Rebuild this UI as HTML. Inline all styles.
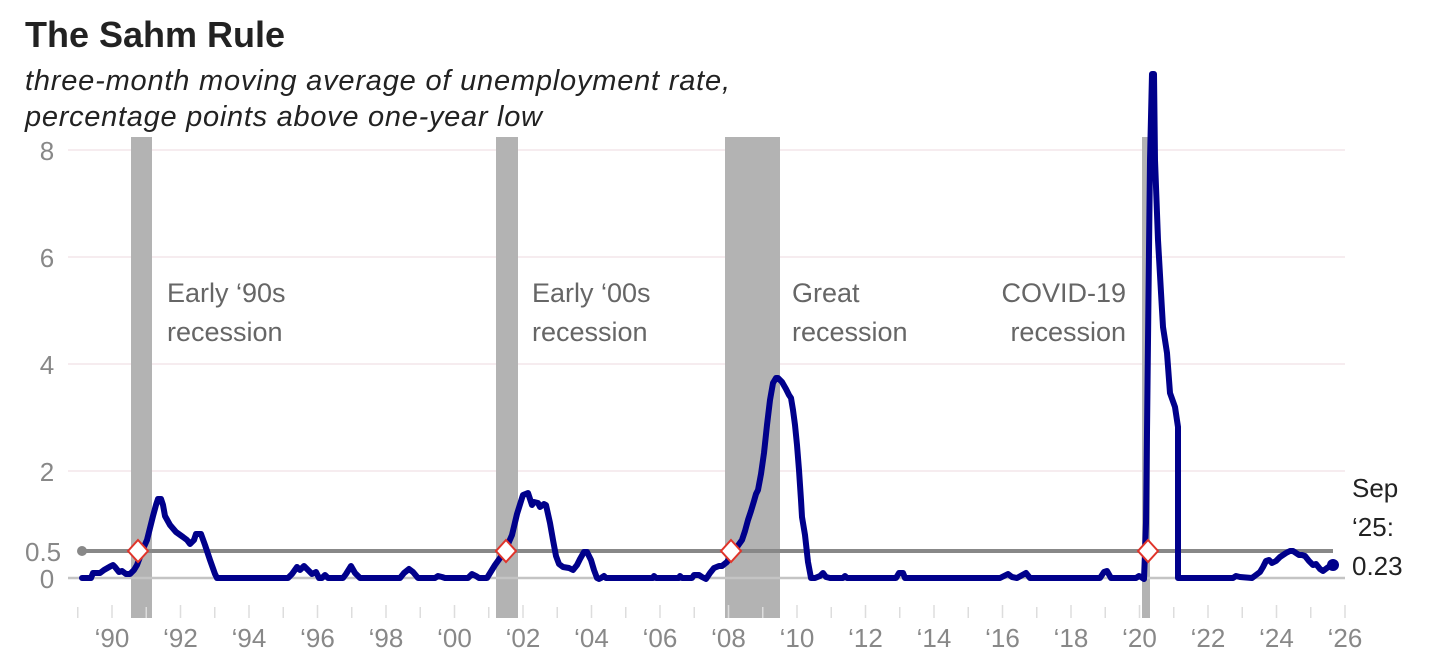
<!DOCTYPE html>
<html><head><meta charset="utf-8"><style>
html,body{margin:0;padding:0;background:#fff;}
svg{display:block;font-family:"Liberation Sans",sans-serif;}
</style></head><body>
<svg width="1440" height="664" viewBox="0 0 1440 664" xmlns="http://www.w3.org/2000/svg">
<rect width="1440" height="664" fill="#fff"/>
<text x="25" y="47" font-size="36" font-weight="bold" fill="#222">The Sahm Rule</text>
<text x="25" y="90" font-size="29" font-style="italic" fill="#222" textLength="705">three-month moving average of unemployment rate,</text>
<text x="25" y="126" font-size="29" font-style="italic" fill="#222" textLength="517">percentage points above one-year low</text>
<g stroke="#f3e6ea" stroke-width="1.5">
<line x1="68" x2="1345" y1="150" y2="150"/><line x1="68" x2="1345" y1="257" y2="257"/>
<line x1="68" x2="1345" y1="364" y2="364"/><line x1="68" x2="1345" y1="471" y2="471"/>
</g>
<g fill="#b3b3b3">
<rect x="131" y="137" width="21" height="481"/>
<rect x="496" y="137" width="22" height="481"/>
<rect x="725" y="137" width="55" height="481"/>
<rect x="1142" y="137" width="8" height="481"/>
</g>
<g font-size="27" fill="#666">
<text x="167" y="302">Early ‘90s</text><text x="167" y="341">recession</text>
<text x="532" y="302">Early ‘00s</text><text x="532" y="341">recession</text>
<text x="792" y="302">Great</text><text x="792" y="341">recession</text>
<text x="1126" y="302" text-anchor="end">COVID-19</text><text x="1126" y="341" text-anchor="end">recession</text>
</g>
<g font-size="26" fill="#888" text-anchor="middle">
<text x="47" y="160">8</text><text x="47" y="267">6</text><text x="47" y="374">4</text><text x="47" y="481">2</text>
<text x="47" y="588">0</text>
</g>
<text x="25" y="561" font-size="26" fill="#888">0.5</text>
<line x1="68" x2="1345" y1="578" y2="578" stroke="#c4c4c4" stroke-width="2.5"/>
<line x1="82" x2="1333" y1="551" y2="551" stroke="#888" stroke-width="4"/>
<circle cx="82" cy="551" r="5" fill="#888"/>
<g stroke="#ddd" stroke-width="1.5" id="ticks"></g>
<g id="xl" font-size="26" fill="#888" text-anchor="middle"></g>
<polyline fill="none" stroke="#00008b" stroke-width="6" stroke-linejoin="round" stroke-linecap="round" points="
82,578 91,578 93,573 100,573 104,570 111,566 113,565 115,567 119,572 122,571 126,574 130,574 134,570 137,565 140,557 143,549 147,540 150,528 153,516 156,505 158,499 161,499 163,505 165,516 170,525 176,532 183,537 187,540 190,544 194,540 196,534 201,534 205,545 210,560 215,574 217,578
288,578 292,574 297,567 300,570 304,566 308,570 312,574 316,572 319,578 322,578 325,575 328,578 343,578 346,574 351,566 355,573 360,578 400,578 404,573 409,569 413,572 418,578 435,578 438,576 442,577 445,578 468,578 472,574 476,576 479,578 485,578
487,578 495,565 505,551 512,535 517,514 522,498 523,495 528,493 530,499 532,505 534,502 538,503 540,507 544,504 546,505 550,523 553,540 556,556 559,564 563,567 569,568 573,570 577,565 580,559 584,552 587,552 591,560 594,570 597,578 599,579 601,578 604,576 606,578 653,578 654,576 656,578 679,578 680,576 682,578 692,578 694,575 699,575 702,577 706,579 710,573 714,568 719,566 722,566 727,562 730,557 734,551 737,547 742,540 745,531 748,520 751,511 754,501 756,494 758,490 761,474 764,453 767,425 770,400 773,383 776,378 778,378 782,382 786,389 789,395 791,398 793,410 795,425 797,445 799,470 801,500 802,517 805,535 808,562 811,578 815,578 820,576 823,573 826,577 830,578 843,578 845,576 847,578
896,578 899,573 903,573 905,578 1000,578 1008,574 1012,577 1017,578 1026,573 1030,578 1100,578 1104,572 1107,571 1111,578 1136,578 1139,576 1141,577 1144,579 1145,553 1146,523 1150,160 1152,74 1154,74 1155,160 1158,240 1162,310 1163,327 1167,353 1170,393 1175,407 1178,427 1178,578
1233,578 1236,576 1240,577 1252,578 1256,575 1260,572 1263,567 1266,561 1269,560 1272,563 1276,561 1280,557 1283,555 1286,553 1290,551 1293,551 1296,553 1299,555 1302,555 1305,556 1309,561 1313,565 1316,564 1320,569 1323,571 1327,568 1330,566 1333,565"/>
<circle cx="1333" cy="565" r="6" fill="#00008b"/>
<g fill="#fff" stroke="#e0342a" stroke-width="2">
<path d="M138,540 L148,551 L138,562 L128,551 Z"/>
<path d="M506,540 L516,551 L506,562 L496,551 Z"/>
<path d="M731,540 L741,551 L731,562 L721,551 Z"/>
<path d="M1148,540 L1158,551 L1148,562 L1138,551 Z"/>
</g>
<g font-size="26" fill="#222">
<text x="1352" y="497">Sep</text><text x="1352" y="536">‘25:</text><text x="1352" y="575">0.23</text>
</g>
<script>
(function(){var ns="http://www.w3.org/2000/svg",t=document.getElementById("ticks"),l=document.getElementById("xl");
for(var y=1989;y<=2026;y++){var x=112+(y-1990)*34.25;var ln=document.createElementNS(ns,"line");
ln.setAttribute("x1",x);ln.setAttribute("x2",x);ln.setAttribute("y1",y%2==0?605:607);ln.setAttribute("y2",618);t.appendChild(ln);
if(y%2==0&&y>=1990){var tx=document.createElementNS(ns,"text");tx.setAttribute("x",x);tx.setAttribute("y",647);
tx.textContent="‘"+String(y%100).padStart(2,"0");l.appendChild(tx);}}})();
</script>
</svg>
</body></html>
